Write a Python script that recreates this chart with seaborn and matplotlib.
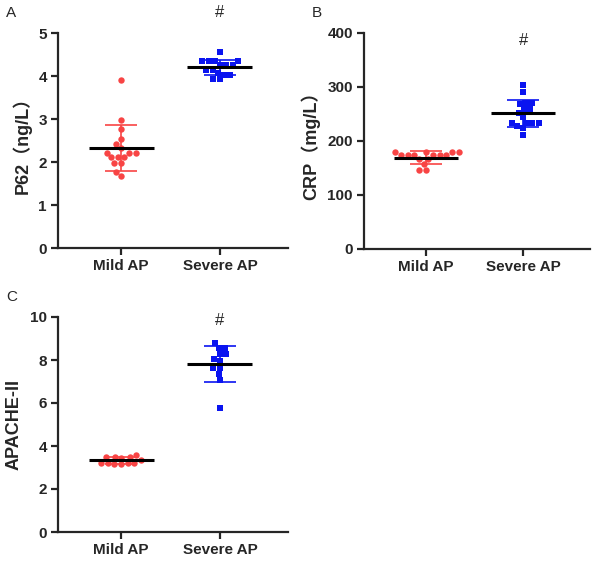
import numpy as np
import pandas as pd
import matplotlib
matplotlib.use("Agg")
import matplotlib.pyplot as plt
import seaborn as sns

groups = ["Mild AP", "Severe AP"]

p62_mild = [3.91, 2.98, 2.76, 2.54, 2.43, 2.33, 2.22, 2.22, 2.22, 2.11, 2.11, 2.11, 1.98, 1.98, 1.77, 1.67]
p62_severe = [4.55, 4.35, 4.35, 4.35, 4.35, 4.26, 4.26, 4.26, 4.15, 4.15, 4.06, 4.03, 4.03, 3.92, 3.92]

crp_mild = [179, 179, 179, 179, 174, 174, 174, 174, 174, 174, 166, 166, 157, 146, 146]
crp_severe = [304, 291, 270, 270, 268, 259, 259, 252, 244, 234, 234, 234, 234, 228, 224, 211]

apache_mild = [3.58, 3.50, 3.50, 3.50, 3.46, 3.33, 3.22, 3.22, 3.22, 3.22, 3.15, 3.15]
apache_severe = [8.77, 8.54, 8.54, 8.26, 8.26, 8.03, 7.95, 7.64, 7.64, 7.35, 7.07, 5.75]

RED = "#F84444"
BLUE = "#0A14F0"

sns.set_style("ticks")
plt.rcParams["font.family"] = ["Liberation Sans", "Noto Sans CJK SC", "DejaVu Sans"]

W, H = 600, 563
fig = plt.figure(figsize=(W / 100, H / 100), dpi=100)


def px_axes(l, t, r, b):
    return fig.add_axes([l / W, 1 - b / H, (r - l) / W, (b - t) / H])


def dot_panel(ax, mild, severe, ylabel, yticks, hash_y):
    df = pd.DataFrame({
        "group": ["Mild AP"] * len(mild) + ["Severe AP"] * len(severe),
        "value": mild + severe,
    })
    sns.swarmplot(data=df[df.group == "Mild AP"], x="group", y="value", order=groups,
                  color=RED, marker="o", size=4.6, linewidth=0, ax=ax, zorder=3)
    sns.swarmplot(data=df[df.group == "Severe AP"], x="group", y="value", order=groups,
                  color=BLUE, marker="s", size=4.4, linewidth=0, ax=ax, zorder=3)

    # mean +/- SD
    for i, (vals, c) in enumerate([(mild, RED), (severe, BLUE)]):
        m = np.mean(vals)
        sd = np.std(vals, ddof=1)
        ax.errorbar(i, m, yerr=sd, color=c, lw=1.2, capsize=11.5, capthick=1.2, zorder=2)
        ax.hlines(m, i - 0.33, i + 0.33, color="black", lw=2.2, zorder=4)

    ax.set_xlim(-0.64, 1.69)
    ax.set_ylim(yticks[0], yticks[-1])
    ax.set_yticks(yticks)
    ax.set_xlabel("")
    ax.set_ylabel(ylabel, fontsize=13, fontweight="bold", labelpad=5)
    ax.tick_params(axis="both", width=1.6, length=5, labelsize=11, pad=3)
    for lab in ax.get_xticklabels() + ax.get_yticklabels():
        lab.set_fontweight("bold")
    sns.despine(ax=ax)
    for s in ["left", "bottom"]:
        ax.spines[s].set_linewidth(1.6)
    ax.text(1, hash_y, "#", ha="center", va="center", fontsize=12, clip_on=False)


axA = px_axes(58, 33, 288, 248)
dot_panel(axA, p62_mild, p62_severe, "P62（ng/L）", [0, 1, 2, 3, 4, 5], 5.47)
axB = px_axes(364, 33, 590, 249)
dot_panel(axB, crp_mild, crp_severe, "CRP（mg/L）", [0, 100, 200, 300, 400], 387)
axC = px_axes(58, 317, 288, 532)
dot_panel(axC, apache_mild, apache_severe, "APACHE-II", [0, 2, 4, 6, 8, 10], 9.86)

fig.text(6 / W, 1 - 13 / H, "A", fontsize=11, va="center")
fig.text(312 / W, 1 - 13 / H, "B", fontsize=11, va="center")
fig.text(6 / W, 1 - 297 / H, "C", fontsize=11, va="center")

fig.savefig("out.png", dpi=100)
